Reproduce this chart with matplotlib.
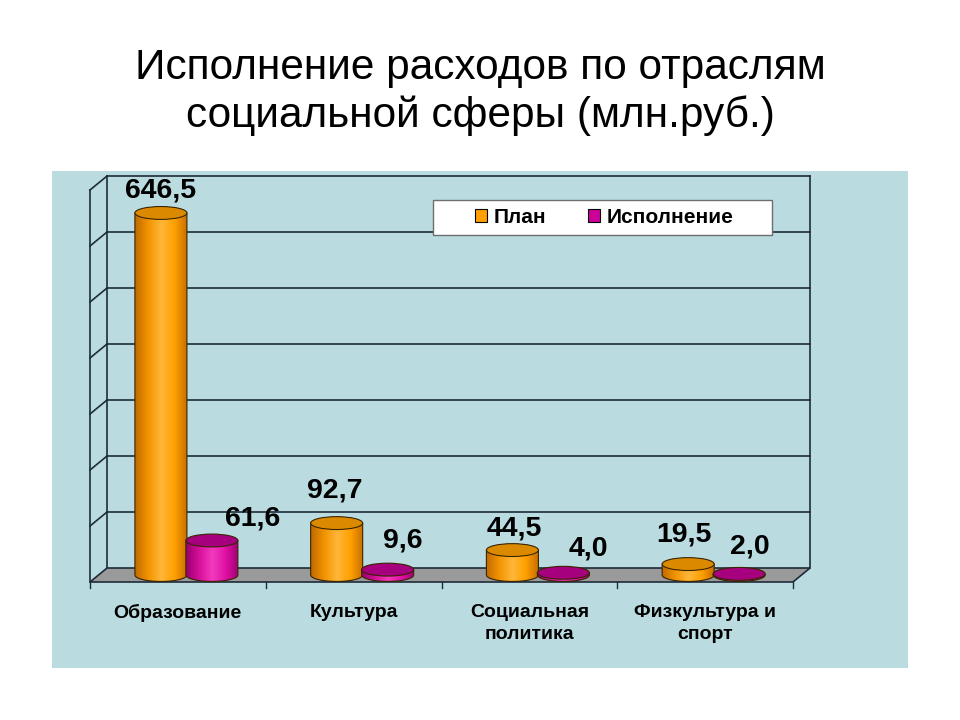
import numpy as np
import matplotlib
matplotlib.use("Agg")
import matplotlib.pyplot as plt
from matplotlib.patches import Ellipse, PathPatch, Polygon, Rectangle, Patch
from matplotlib.path import Path
from matplotlib.colors import LinearSegmentedColormap

plt.rcParams["font.family"] = ["Liberation Sans", "DejaVu Sans"]

# ---- data -------------------------------------------------------------
TITLE = ["Исполнение расходов по отраслям", "социальной сферы (млн.руб.)"]
CATEGORIES = ["Образование", "Культура", "Социальная\nполитика", "Физкультура и\nспорт"]
SERIES = ["План", "Исполнение"]
PLAN = [646.5, 92.7, 44.5, 19.5]
EXEC = [61.6, 9.6, 4.0, 2.0]
Y_MAX, Y_STEP = 700, 100

# ---- style ------------------------------------------------------------
PANEL = "#BADCE0"
LINE = "#1E2B38"
FLOOR = "#9A9A9A"
EDGE = "#3A2400"
ORANGE = LinearSegmentedColormap.from_list(
    "orange", ["#C06A00", "#F29400", "#FFB63A", "#FFA000", "#C46C00"])
MAGENTA = LinearSegmentedColormap.from_list(
    "magenta", ["#98006E", "#D6109A", "#F23ABD", "#E010A4", "#9A0070"])
TOPS = ["#DB8A00", "#A6007E"]
SWATCH = ["#FFA000", "#CC0099"]

DX, DY = 0.097, 25          # back-wall offset (category units, value units)
BAR_W, BAR_E = 0.296, 23    # cylinder width and ellipse height
BAR_OFF = 0.145             # distance of each cylinder from category centre
# label nudges in pixels (right, up) relative to top of each cylinder
LABEL_NUDGE = [[(0, 15), (41, 15)], [(-2, 26), (15, 22)],
               [(2, 15), (25, 17)], [(-4, 23), (11, 20)]]


def cylinder(ax, cx, base, h, cmap, top_color, z):
    x0, x1 = cx - BAR_W / 2, cx + BAR_W / 2
    top = base + h
    t = np.linspace(np.pi, 2 * np.pi, 60)
    arc = np.column_stack([cx + BAR_W / 2 * np.cos(t), base + BAR_E / 2 * np.sin(t)])
    verts = [(x0, top)] + [tuple(p) for p in arc] + [(x1, top), (x0, top)]
    codes = [Path.MOVETO] + [Path.LINETO] * (len(verts) - 2) + [Path.CLOSEPOLY]
    body = PathPatch(Path(verts, codes), facecolor="none", edgecolor=EDGE,
                     lw=0.8, zorder=z + 0.2)
    ax.add_patch(body)
    im = ax.imshow(np.linspace(0, 1, 200)[None, :], cmap=cmap, aspect="auto",
                   extent=(x0, x1, base - BAR_E / 2, top), zorder=z,
                   interpolation="bilinear")
    im.set_clip_path(body)
    ax.add_patch(Ellipse((cx, top), BAR_W, BAR_E, facecolor=top_color,
                         edgecolor=EDGE, lw=0.8, zorder=z + 0.3))
    return top


fig = plt.figure(figsize=(9.6, 7.2), dpi=100, facecolor="white")

fig.text(0.5, 1 - 79 / 720, TITLE[0], ha="center", va="baseline", fontsize=30.5)
fig.text(0.5, 1 - 127 / 720, TITLE[1], ha="center", va="baseline", fontsize=30.5)

ax = fig.add_axes([52 / 960, 52 / 720, 856 / 960, 497 / 720])
ax.set_facecolor(PANEL)
for s in ax.spines.values():
    s.set_visible(False)
ax.set_xticks([])
ax.set_yticks([])

n = len(CATEGORIES)

# walls
ax.plot([DX, DX], [DY, Y_MAX + DY], color=LINE, lw=1.2, zorder=1)
ax.plot([0, 0], [0, Y_MAX], color=LINE, lw=1.2, zorder=1)
ax.plot([n + DX, n + DX], [DY, Y_MAX + DY], color=LINE, lw=1.2, zorder=1)
for v in range(Y_STEP, Y_MAX + 1, Y_STEP):
    ax.plot([DX, n + DX], [v + DY, v + DY], color=LINE, lw=1.2, zorder=1)
    ax.plot([0, DX], [v, v + DY], color=LINE, lw=1.2, zorder=1)

# floor
ax.add_patch(Polygon([(0, 0), (n, 0), (n + DX, DY), (DX, DY)], closed=True,
                     facecolor=FLOOR, edgecolor=LINE, lw=1.2, zorder=2))
for i in range(n + 1):
    ax.plot([i, i], [0, -11], color=LINE, lw=1.0, zorder=2)

# cylinders and labels
z = 3
for i, cat in enumerate(CATEGORIES):
    for k, (vals, cmap) in enumerate([(PLAN, ORANGE), (EXEC, MAGENTA)]):
        cx = i + 0.5 + (-BAR_OFF if k == 0 else BAR_OFF) + DX / 2
        top = cylinder(ax, cx, DY / 2, vals[i], cmap, TOPS[k], z)
        z += 1
        nx, ny = LABEL_NUDGE[i][k]
        ax.annotate(f"{vals[i]:.1f}".replace(".", ","), xy=(cx, top),
                    xytext=(nx * 0.72, ny * 0.72), textcoords="offset points",
                    ha="center", va="baseline", fontsize=20.5,
                    fontweight="bold", zorder=50)
    ax.text(i + 0.5, -39, cat, ha="center", va="top", fontsize=14,
            fontweight="bold", linespacing=1.4)

ax.set_xlim((52 - 90) / 175.75, (908 - 90) / 175.75)
ax.set_ylim((582 - 668) / 0.56, (582 - 171) / 0.56)

# legend
fig.add_artist(Rectangle((433 / 960, 1 - 235 / 720), 339 / 960, 35 / 720,
                         transform=fig.transFigure, facecolor="white",
                         edgecolor="#6E6E6E", lw=1, zorder=10))
handles = [Patch(facecolor=c, edgecolor="black", lw=0.8, label=s)
           for c, s in zip(SWATCH, SERIES)]
leg = fig.legend(handles=handles, loc="center",
                 bbox_to_anchor=(604 / 960, 1 - 217.5 / 720), ncol=2,
                 frameon=False, prop={"size": 15, "weight": "bold"},
                 handlelength=0.6, handleheight=0.6, handletextpad=0.3,
                 columnspacing=2.0)
leg.set_zorder(11)

fig.savefig("out.png", dpi=100)
